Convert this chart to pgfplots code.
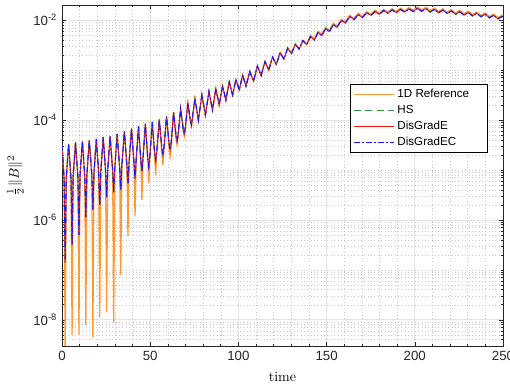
\documentclass[border=0pt]{standalone}
\usepackage{fontspec}
\usepackage{pgfplots}
\pgfplotsset{compat=1.18}
\usepackage{pgfplotstable}
\newfontfamily\arial{Liberation Sans}
\definecolor{cref}{rgb}{1,0.6,0.2}
\definecolor{chs}{rgb}{0.2,0.6,0.2}
\definecolor{cde}{rgb}{0.95,0.1,0.1}
\definecolor{cdec}{rgb}{0.1,0.1,1}
\definecolor{axgray}{rgb}{0.15,0.15,0.15}
\pgfplotstableread{
t ref dg
0 3.162e-5 3.162e-5
1.2 6.457e-6 6.457e-6
1.8 1.585e-9 1.413e-7
2.4 6.761e-6 6.761e-6
3.75 3.311e-5 3.311e-5
5.1 6.761e-6 6.761e-6
5.7 5.012e-9 3.162e-7
6.3 7.244e-6 7.244e-6
7.65 3.548e-5 3.548e-5
9.0 7.244e-6 7.244e-6
9.6 5.012e-9 5.012e-7
10.2 7.586e-6 7.586e-6
11.55 3.715e-5 3.715e-5
12.9 7.586e-6 7.586e-6
13.5 7.943e-9 1.122e-6
14.1 7.943e-6 7.943e-6
15.45 3.890e-5 3.890e-5
16.9 7.943e-6 7.943e-6
17.5 4.467e-9 1.585e-6
18.1 8.511e-6 8.511e-6
19.45 4.169e-5 4.169e-5
20.8 8.511e-6 8.511e-6
21.4 1.122e-8 1.995e-6
22.0 9.333e-6 9.333e-6
23.35 4.571e-5 4.571e-5
24.7 9.333e-6 9.333e-6
25.3 1.413e-8 2.818e-6
25.9 9.772e-6 9.772e-6
27.25 4.786e-5 4.786e-5
28.7 9.772e-6 9.772e-6
29.3 8.913e-9 3.548e-6
29.9 1.072e-5 1.072e-5
31.25 5.248e-5 5.248e-5
32.7 1.072e-5 1.072e-5
33.3 7.943e-8 3.981e-6
33.9 1.202e-5 1.202e-5
35.35 5.888e-5 5.888e-5
36.8 1.202e-5 1.202e-5
37.4 4.677e-7 5.370e-6
38.0 1.380e-5 1.380e-5
39.4 6.761e-5 6.761e-5
40.8 1.380e-5 1.380e-5
41.4 1.175e-6 6.761e-6
42.0 1.514e-5 1.514e-5
43.35 7.413e-5 7.413e-5
44.7 1.514e-5 1.514e-5
45.3 2.512e-6 9.333e-6
45.9 1.698e-5 1.698e-5
47.25 8.318e-5 8.318e-5
48.6 1.698e-5 1.738e-5
49.2 5.370e-6 1.175e-5
49.8 1.862e-5 1.862e-5
51.15 9.120e-5 9.120e-5
52.5 1.862e-5 2.239e-5
53.1 7.943e-6 1.585e-5
53.7 2.089e-5 2.291e-5
55.15 1.023e-4 1.023e-4
56.6 2.089e-5 2.754e-5
57.2 1.259e-5 1.995e-5
57.8 2.399e-5 2.818e-5
59.25 1.175e-4 1.175e-4
60.7 2.692e-5 3.388e-5
61.3 1.862e-5 2.512e-5
61.9 2.884e-5 3.548e-5
63.25 1.413e-4 1.413e-4
64.6 4.266e-5 4.898e-5
65.2 3.162e-5 3.802e-5
65.8 4.467e-5 5.129e-5
67.25 1.698e-4 1.698e-4
68.7 6.026e-5 6.607e-5
69.3 4.677e-5 5.248e-5
69.9 6.310e-5 6.918e-5
71.35 2.188e-4 2.188e-4
72.8 9.120e-5 9.772e-5
73.4 7.413e-5 7.943e-5
75.35 2.692e-4 2.692e-4
77.3 9.550e-5 1.000e-4
79.3 3.162e-4 3.162e-4
81.3 1.259e-4 1.259e-4
83.3 3.715e-4 3.715e-4
85.3 1.585e-4 1.585e-4
87.2 4.266e-4 4.266e-4
89.1 1.995e-4 1.995e-4
91.0 4.786e-4 4.786e-4
92.9 2.512e-4 2.512e-4
94.8 5.754e-4 5.754e-4
96.7 3.162e-4 3.162e-4
98.6 6.457e-4 6.457e-4
100.5 3.981e-4 3.981e-4
102.4 7.943e-4 7.943e-4
104.3 4.786e-4 4.786e-4
106.45 9.333e-4 9.333e-4
108.6 6.026e-4 6.026e-4
110.75 1.202e-3 1.202e-3
112.9 7.762e-4 7.762e-4
115.05 1.479e-3 1.479e-3
117.2 1.000e-3 1.000e-3
119.35 1.820e-3 1.820e-3
121.5 1.288e-3 1.288e-3
123.65 2.239e-3 2.239e-3
125.8 1.660e-3 1.660e-3
127.95 2.754e-3 2.754e-3
130.1 2.138e-3 2.138e-3
132.25 3.311e-3 3.311e-3
134.4 2.630e-3 2.630e-3
136.55 3.890e-3 3.890e-3
138.7 3.236e-3 3.236e-3
140.85 4.958e-3 4.677e-3
143.0 4.220e-3 3.981e-3
145.15 5.960e-3 5.623e-3
147.3 5.192e-3 4.898e-3
149.45 7.167e-3 6.761e-3
151.6 6.241e-3 5.888e-3
153.75 8.616e-3 8.128e-3
155.9 7.590e-3 7.160e-3
158.3 1.036e-2 9.772e-3
160.7 9.339e-3 8.810e-3
163.1 1.246e-2 1.175e-2
165.5 1.084e-2 1.023e-2
167.9 1.365e-2 1.288e-2
170.3 1.189e-2 1.122e-2
172.7 1.480e-2 1.396e-2
175.1 1.320e-2 1.245e-2
177.5 1.568e-2 1.479e-2
179.9 1.381e-2 1.303e-2
182.3 1.642e-2 1.549e-2
184.7 1.447e-2 1.365e-2
187.1 1.692e-2 1.596e-2
189.5 1.494e-2 1.409e-2
191.9 1.735e-2 1.637e-2
194.3 1.532e-2 1.445e-2
196.7 1.780e-2 1.679e-2
199.1 1.568e-2 1.479e-2
201.5 1.821e-2 1.718e-2
203.9 1.593e-2 1.503e-2
206.3 1.800e-2 1.698e-2
208.7 1.539e-2 1.452e-2
211.1 1.735e-2 1.637e-2
213.5 1.487e-2 1.403e-2
215.9 1.680e-2 1.585e-2
218.3 1.436e-2 1.355e-2
220.7 1.620e-2 1.528e-2
223.1 1.384e-2 1.306e-2
225.5 1.560e-2 1.472e-2
227.9 1.335e-2 1.259e-2
230.3 1.504e-2 1.419e-2
232.7 1.286e-2 1.213e-2
235.1 1.450e-2 1.368e-2
237.5 1.239e-2 1.169e-2
239.9 1.388e-2 1.309e-2
242.3 1.179e-2 1.112e-2
244.7 1.320e-2 1.245e-2
247.1 1.120e-2 1.057e-2
249.5 1.254e-2 1.183e-2
250 1.217e-2 1.148e-2
}\data
\begin{document}
\begin{tikzpicture}
\useasboundingbox (-44.3pt,-29.3pt) rectangle (320pt,247.1pt);
\begin{axis}[
  at={(0,0)}, anchor=south west,
  scale only axis, width=315pt, height=243.5pt,
  ymode=log, xmin=0, xmax=250, ymin=3e-9, ymax=2e-2,
  xtick={0,50,100,150,200,250},
  xticklabels={0,50,100,150,200,250},
  minor xtick={10,20,30,40,60,70,80,90,110,120,130,140,160,170,180,190,210,220,230,240},
  ytick={1e-8,1e-6,1e-4,1e-2},
  yticklabels={10\textsuperscript{-8},10\textsuperscript{-6},10\textsuperscript{-4},10\textsuperscript{-2}},
  minor ytick={3e-9,4e-9,5e-9,6e-9,7e-9,8e-9,9e-9,
    2e-8,3e-8,4e-8,5e-8,6e-8,7e-8,8e-8,9e-8,1e-7,
    2e-7,3e-7,4e-7,5e-7,6e-7,7e-7,8e-7,9e-7,
    2e-6,3e-6,4e-6,5e-6,6e-6,7e-6,8e-6,9e-6,1e-5,
    2e-5,3e-5,4e-5,5e-5,6e-5,7e-5,8e-5,9e-5,
    2e-4,3e-4,4e-4,5e-4,6e-4,7e-4,8e-4,9e-4,1e-3,
    2e-3,3e-3,4e-3,5e-3,6e-3,7e-3,8e-3,9e-3,2e-2},
  grid=both,
  major grid style={gray!22, line width=0.5pt},
  minor grid style={gray!42, dotted, line width=0.35pt},
  tick align=inside,
  major tick length=3pt, minor tick length=1.6pt,
  every tick/.style={axgray, line width=0.4pt},
  axis line style={axgray, line width=0.5pt},
  ticklabel style={font=\arial\fontsize{9.5}{11}\selectfont, text=axgray},
  xlabel={time}, ylabel={$\frac{1}{2}\|B\|^2$},
  xlabel style={font=\fontsize{10}{12}\selectfont, yshift=-2pt},
  ylabel style={font=\fontsize{10}{12}\selectfont},
  legend cell align=left,
  legend style={at={(0.654,0.768)}, anchor=north west, draw=black, line width=0.5pt,
    font=\arial\fontsize{8.3}{10}\selectfont, inner xsep=2pt, inner ysep=1.5pt, row sep=0pt},
  legend image code/.code={\draw[mark repeat=2,mark phase=2] plot coordinates {(0cm,0cm) (0.5cm,0cm) (1.0cm,0cm)};},
]
\addplot[draw=cref, line width=0.9pt] table[x=t, y=ref] {\data};
\addlegendentry{1D Reference\rule{9pt}{0pt}}
\addplot[draw=chs, line width=0.7pt, dash pattern=on 5pt off 3pt] table[x=t, y=dg] {\data};
\addlegendentry{HS}
\addplot[draw=cde, line width=0.6pt] table[x=t, y=dg] {\data};
\addlegendentry{DisGradE}
\addplot[draw=cdec, line width=0.8pt, dash pattern=on 4pt off 1.8pt on 1pt off 1.8pt] table[x=t, y=dg] {\data};
\addlegendentry{DisGradEC}
\end{axis}
\end{tikzpicture}
\end{document}
